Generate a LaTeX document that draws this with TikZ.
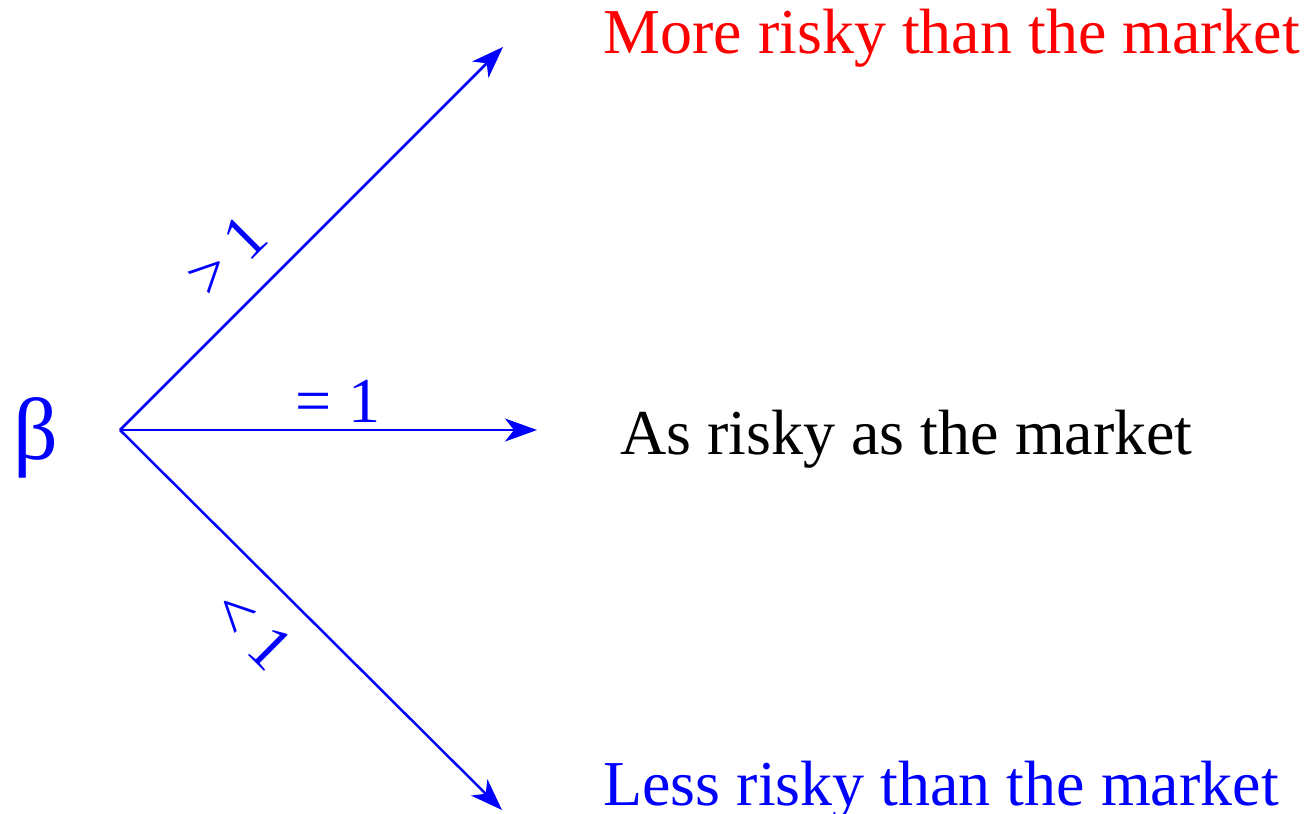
\documentclass[tikz,border=0pt]{standalone}
\usepackage{fontspec}
\setmainfont{Liberation Serif}
\usetikzlibrary{arrows.meta}
\definecolor{pblue}{RGB}{0,0,255}
\definecolor{pred}{RGB}{255,0,0}
\begin{document}
\begin{tikzpicture}[x=0.5pt,y=-0.5pt,
  arr/.style={pblue,line width=1.25pt,-{Stealth[length=16pt,width=11.5pt,inset=4.5pt]}},
  big/.style={font=\fontsize{32pt}{36pt}\selectfont},
  txt/.style={big,anchor=base west,inner sep=0pt},
  lab/.style={big,pblue,inner sep=0pt,sloped}]
\useasboundingbox (0,0) rectangle (1313,814);
\coordinate (O) at (120,430);
\coordinate (T) at (503,47);
\coordinate (M) at (537,430);
\coordinate (B) at (502,810);
\node[txt,pblue,font=\fontsize{44pt}{48pt}\selectfont,anchor=base] (beta) at (36,459) {β};
\draw[arr] (O) -- node[lab,pos=0.366,above=13pt] (gt) {> 1} (T);
\draw[arr] (O) -- (M);
\node[big,pblue,inner sep=0pt,anchor=base] (eqlab) at (338,422) {= 1};
\draw[arr] (O) -- node[lab,pos=0.435,below=13pt] (lt) {< 1} (B);
\node[txt,pred] (more) at (603,53) {More risky than the market};
\node[txt,black] (as) at (620,454) {As risky as the market};
\node[txt,pblue] (less) at (603,805) {Less risky than the market};
\end{tikzpicture}
\end{document}
